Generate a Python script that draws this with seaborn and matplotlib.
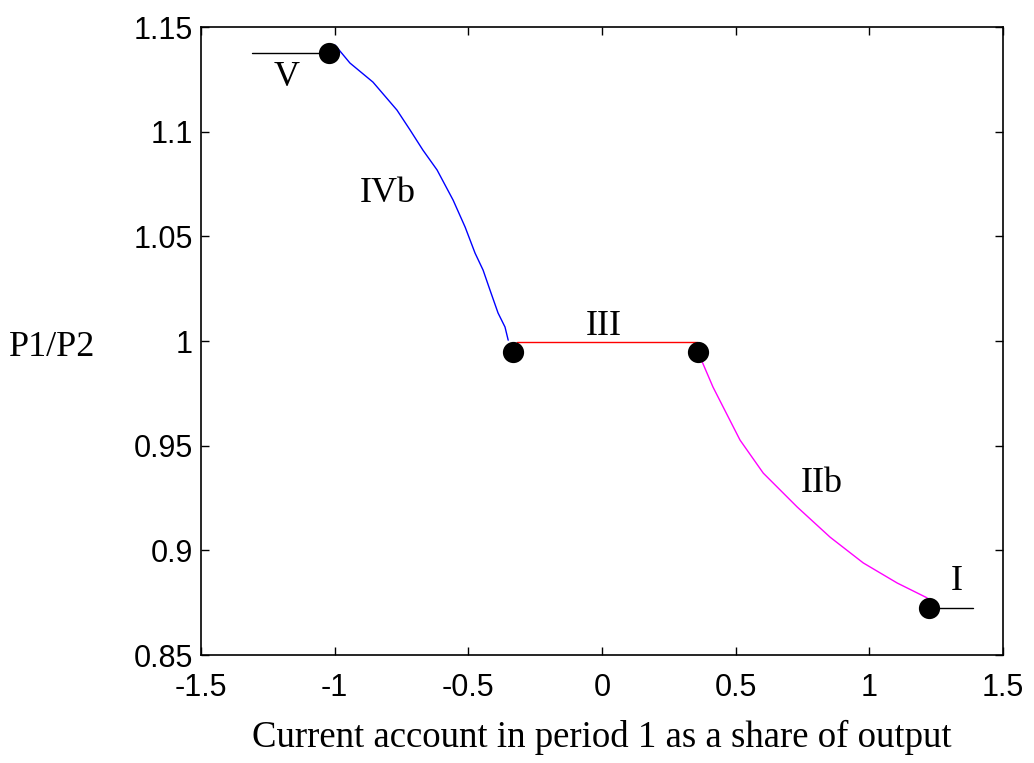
import matplotlib
matplotlib.use("Agg")
import matplotlib.pyplot as plt
import seaborn as sns
import pandas as pd

# Regime IVb (blue), III (red), IIb (magenta), and the flat ends V and I
ivb_x = [-0.999, -0.943, -0.857, -0.767, -0.718, -0.670, -0.617, -0.557, -0.512,
         -0.475, -0.445, -0.419, -0.389, -0.363, -0.351]
ivb_y = [1.1414, 1.1328, 1.1237, 1.1103, 1.1008, 1.0912, 1.0817, 1.0673, 1.0544,
         1.042, 1.0339, 1.0243, 1.0134, 1.0067, 1.0004]
iii_x = [-0.318, 0.356]
iii_y = [0.9995, 0.9995]
iib_x = [0.367, 0.415, 0.516, 0.603, 0.730, 0.853, 0.977, 1.104, 1.216]
iib_y = [0.9923, 0.978, 0.9527, 0.9369, 0.9207, 0.9063, 0.894, 0.8844, 0.8773]
v_x = [-1.309, -1.021]
v_y = [1.1376, 1.1376]
i_x = [1.224, 1.388]
i_y = [0.8725, 0.8725]
dot_x = [-1.021, -0.333, 0.359, 1.224]
dot_y = [1.1376, 0.9947, 0.9947, 0.8725]

labels = ["V", "IVb", "III", "IIb", "I"]
label_x = [-1.178, -0.80, 0.008, 0.823, 1.328]
label_y = [1.126, 1.0707, 1.0071, 0.932, 0.8853]

sns.set_style("white")
plt.rcParams["font.family"] = ["Liberation Sans", "DejaVu Sans"]
plt.rcParams["text.color"] = "black"
plt.rcParams["axes.labelcolor"] = "black"
plt.rcParams["xtick.color"] = "black"
plt.rcParams["ytick.color"] = "black"

fig = plt.figure(figsize=(10.34, 7.63), dpi=100)
ax = fig.add_axes([0.1944, 0.1415, 0.7757, 0.8231])

segs = [(ivb_x, ivb_y, "#0000ff"), (iii_x, iii_y, "#ff0000"),
        (iib_x, iib_y, "#ff00ff"), (v_x, v_y, "black"), (i_x, i_y, "black")]
for xs, ys, col in segs:
    sns.lineplot(x=xs, y=ys, color=col, linewidth=1.0, ax=ax, sort=False)

sns.scatterplot(data=pd.DataFrame({"x": dot_x, "y": dot_y}), x="x", y="y",
                color="black", s=200, edgecolor="black", zorder=5, ax=ax)

serif = ["Liberation Serif", "DejaVu Serif"]
for lab, lx, ly in zip(labels, label_x, label_y):
    ax.text(lx, ly, lab, family=serif, fontsize=26, ha="center", va="center", color="black")

ax.set_xlim(-1.5, 1.5)
ax.set_ylim(0.85, 1.15)
ax.set_xticks([-1.5, -1, -0.5, 0, 0.5, 1, 1.5])
ax.set_xticklabels(["-1.5", "-1", "-0.5", "0", "0.5", "1", "1.5"])
ax.set_yticks([0.85, 0.9, 0.95, 1.0, 1.05, 1.1, 1.15])
ax.set_yticklabels(["0.85", "0.9", "0.95", "1", "1.05", "1.1", "1.15"])
ax.tick_params(direction="in", length=6, width=1, labelsize=22, top=True, right=True,
               bottom=True, left=True, pad=6, colors="black")
ax.tick_params(axis="x", pad=13)
for sp in ax.spines.values():
    sp.set_visible(True)
    sp.set_color("black")
    sp.set_linewidth(1.2)

ax.set_xlabel("Current account in period 1 as a share of output", family=serif,
              fontsize=26.5, labelpad=12, color="black")
ax.set_ylabel("P1/P2", family=serif, fontsize=26, rotation=0, color="black")
ax.yaxis.set_label_coords(-0.186, 0.49)
ax.yaxis.label.set_va("center")
ax.yaxis.label.set_ha("center")

fig.savefig("out.png", dpi=100)
